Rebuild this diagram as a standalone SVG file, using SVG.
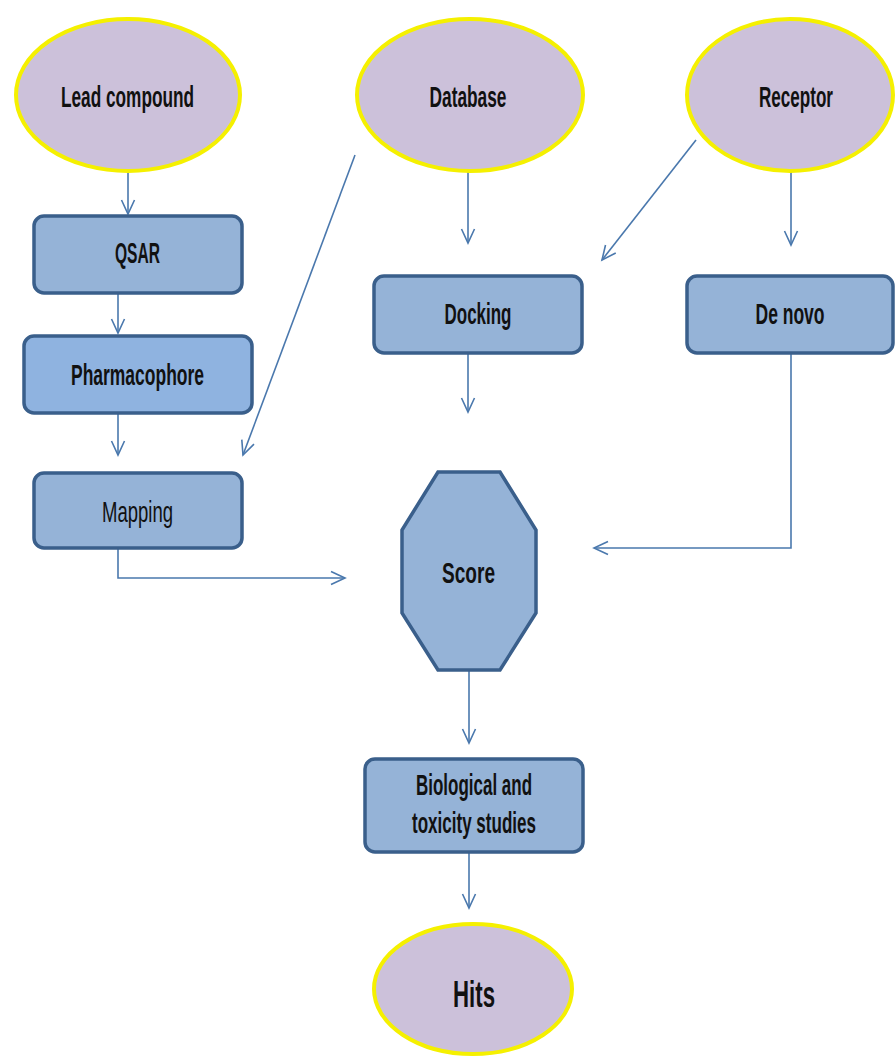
<svg xmlns="http://www.w3.org/2000/svg" width="896" height="1057" viewBox="0 0 896 1057">
<defs>
<style>
.ell{fill:#ccc1da;stroke:#f5f000;stroke-width:4}
.box{fill:#95b3d7;stroke:#3a5f8b;stroke-width:3.5}
.oct{fill:#95b3d7;stroke:#3a5f8b;stroke-width:3.5;stroke-linejoin:miter}
.lbl{font-family:"Liberation Sans",Arial,sans-serif;font-weight:bold;font-size:29px;fill:#111;text-anchor:middle}
.reg{font-weight:normal}
.con{fill:none;stroke:#4a78ad;stroke-width:1.6}
</style>
<marker id="arr" markerUnits="userSpaceOnUse" markerWidth="20" markerHeight="20" viewBox="-16 -10 20 20" refX="0" refY="0" orient="auto">
<path d="M-14,-6.5 L0,0 L-14,6.5" fill="none" stroke="#4a78ad" stroke-width="1.6"/>
</marker>
</defs>
<rect width="896" height="1057" fill="#ffffff"/>
<g id="connectors">
<path class="con" d="M128,172 V214" marker-end="url(#arr)"/>
<path class="con" d="M118,294 V333" marker-end="url(#arr)"/>
<path class="con" d="M118,414 V455" marker-end="url(#arr)"/>
<path class="con" d="M355,155 L243,455" marker-end="url(#arr)"/>
<path class="con" d="M468,172 V243" marker-end="url(#arr)"/>
<path class="con" d="M696,140 L602,260" marker-end="url(#arr)"/>
<path class="con" d="M791,155 V245" marker-end="url(#arr)"/>
<path class="con" d="M468,354 V412" marker-end="url(#arr)"/>
<path class="con" d="M118,549 V578 H345" marker-end="url(#arr)"/>
<path class="con" d="M791,354 V548 H594" marker-end="url(#arr)"/>
<path class="con" d="M469,671 V743" marker-end="url(#arr)"/>
<path class="con" d="M469,853 V908" marker-end="url(#arr)"/>
</g>
<g id="lead">
<ellipse class="ell" cx="128" cy="95" rx="112" ry="76"/>
<text class="lbl" x="127.5" y="107" textLength="133" lengthAdjust="spacingAndGlyphs">Lead compound</text>
</g>
<g id="database">
<ellipse class="ell" cx="470" cy="95" rx="113" ry="76"/>
<text class="lbl" x="468" y="107" textLength="77" lengthAdjust="spacingAndGlyphs">Database</text>
</g>
<g id="receptor">
<ellipse class="ell" cx="790" cy="95" rx="103" ry="76"/>
<text class="lbl" x="796" y="107" textLength="74" lengthAdjust="spacingAndGlyphs">Receptor</text>
</g>
<g id="qsar">
<rect class="box" x="34" y="216" width="208" height="77" rx="10"/>
<text class="lbl" x="137.5" y="263" textLength="45" lengthAdjust="spacingAndGlyphs">QSAR</text>
</g>
<g id="pharmacophore">
<rect class="box" x="24" y="336" width="228" height="77" rx="10" style="fill:#8fb3e0"/>
<text class="lbl" x="137.5" y="385" textLength="133" lengthAdjust="spacingAndGlyphs">Pharmacophore</text>
</g>
<g id="mapping">
<rect class="box" x="34" y="473" width="208" height="75" rx="10"/>
<text class="lbl reg" x="137.5" y="522" textLength="71" lengthAdjust="spacingAndGlyphs">Mapping</text>
</g>
<g id="docking">
<rect class="box" x="374" y="276" width="208" height="77" rx="10"/>
<text class="lbl" x="478" y="324" textLength="67" lengthAdjust="spacingAndGlyphs">Docking</text>
</g>
<g id="denovo">
<rect class="box" x="687" y="276" width="206" height="77" rx="10"/>
<text class="lbl" x="790" y="324" textLength="69" lengthAdjust="spacingAndGlyphs">De novo</text>
</g>
<g id="score">
<polygon class="oct" points="438,472 500,472 536,530 536,613 500,670 438,670 402,613 402,530"/>
<text class="lbl" x="468.5" y="583" textLength="53" lengthAdjust="spacingAndGlyphs">Score</text>
</g>
<g id="bio">
<rect class="box" x="365" y="759" width="218" height="93" rx="10"/>
<text class="lbl" x="474" y="795" textLength="116" lengthAdjust="spacingAndGlyphs">Biological and</text>
<text class="lbl" x="474" y="833" textLength="124" lengthAdjust="spacingAndGlyphs">toxicity studies</text>
</g>
<g id="hits">
<ellipse class="ell" cx="473" cy="989" rx="99" ry="65"/>
<text class="lbl" x="474" y="1007" style="font-size:36px" textLength="42" lengthAdjust="spacingAndGlyphs">Hits</text>
</g>
</svg>
